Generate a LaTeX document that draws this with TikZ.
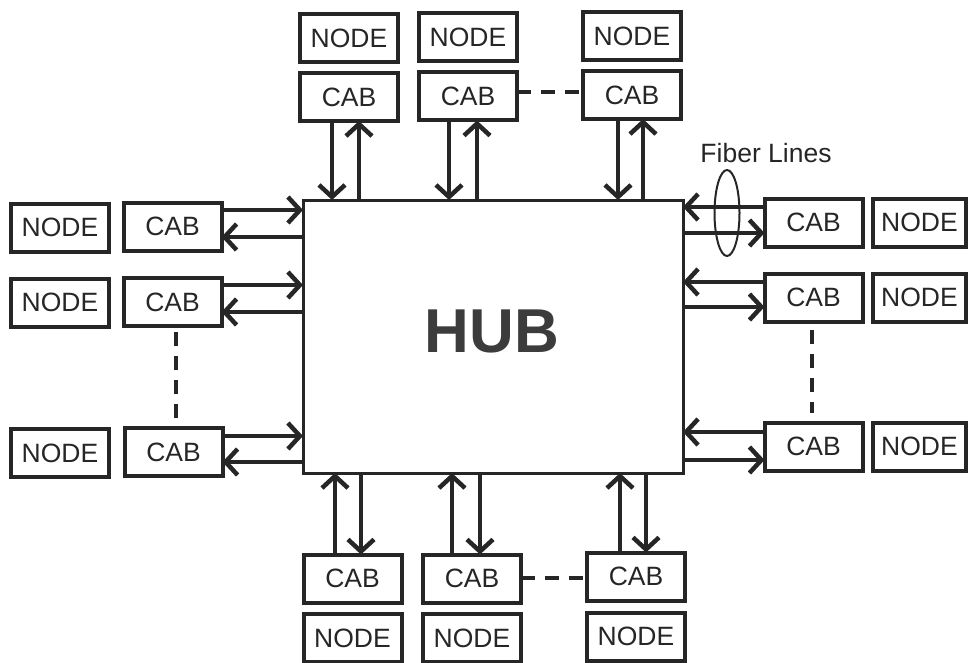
\documentclass[tikz,border=0pt]{standalone}
\usepackage{fontspec}
\setmainfont{Liberation Sans}
\usetikzlibrary{arrows.meta,shapes.geometric}
\definecolor{ink}{HTML}{262626}
\begin{document}
\begin{tikzpicture}[x=1pt,y=-1pt,
  box/.style={draw=ink, line width=4pt, minimum width=98pt, minimum height=48pt,
    inner sep=0pt, outer sep=0pt, text=ink, font=\fontsize{26.5}{30}\selectfont},
  link/.style={draw=ink, line width=3.3pt,
    -{Straight Barb[length=12pt,width=26pt,line width=4.5pt]}},
  dotsline/.style={draw=ink, line width=4pt, dash pattern=on 14pt off 10pt},
  label/.style={text=ink, inner sep=0pt, font=\fontsize{26.5}{30}\selectfont},
]
\useasboundingbox (0,0) rectangle (968,663);

% central hub
\node[draw=ink, line width=3pt, minimum width=380pt, minimum height=273pt,
      inner sep=0pt, outer sep=0pt] (hub) at (493,336.5) {};
\node[text=ink!90, inner sep=0pt, font=\fontsize{62}{70}\selectfont\bfseries] (hubtext) at (492,331.5) {HUB};

% top row
\node[box] (nt1) at (349,38) {NODE};
\node[box] (ct1) at (349,97) {CAB};
\node[box] (nt2) at (468,37.5) {NODE};
\node[box] (ct2) at (468,96.5) {CAB};
\node[box] (nt3) at (632,36) {NODE};
\node[box] (ct3) at (632,95) {CAB};

% left column
\node[box] (nl1) at (60,227.5) {NODE};
\node[box] (cl1) at (172.5,226.5) {CAB};
\node[box] (nl2) at (60,302.5) {NODE};
\node[box] (cl2) at (172.5,302) {CAB};
\node[box] (nl3) at (60,453) {NODE};
\node[box] (cl3) at (173.5,452) {CAB};

% right column
\node[box] (cr1) at (813.5,222.5) {CAB};
\node[box, minimum width=93pt] (nr1) at (919.5,222.5) {NODE};
\node[box] (cr2) at (813.5,297.5) {CAB};
\node[box, minimum width=93pt] (nr2) at (919.5,297.5) {NODE};
\node[box] (cr3) at (813.5,446.5) {CAB};
\node[box, minimum width=93pt] (nr3) at (919.5,446.5) {NODE};

% bottom row
\node[box] (cb1) at (352.5,578.5) {CAB};
\node[box] (nb1) at (352.5,638) {NODE};
\node[box] (cb2) at (472,578.5) {CAB};
\node[box] (nb2) at (472,638) {NODE};
\node[box] (cb3) at (636,576.5) {CAB};
\node[box] (nb3) at (636,636.5) {NODE};

% fiber pairs, top
\foreach \c/\i/\o in {ct1/-17/10, ct2/-19/9, ct3/-14/11} {
  \coordinate (a) at ([xshift=\i pt]\c.south);
  \coordinate (b) at ([xshift=\o pt]\c.south);
  \draw[link] (a) -- (a |- hub.north);
  \draw[link] (b |- hub.north) -- (b);
}
% fiber pairs, bottom
\foreach \c/\i/\o in {cb1/-17.5/8.5, cb2/-20/8, cb3/-16/10} {
  \coordinate (a) at ([xshift=\i pt]\c.north);
  \coordinate (b) at ([xshift=\o pt]\c.north);
  \draw[link] (a) -- (a |- hub.south);
  \draw[link] (b |- hub.south) -- (b);
}
% fiber pairs, left
\foreach \c/\i/\o in {cl1/16.5/-10.5, cl2/17/-10, cl3/16/-10} {
  \coordinate (a) at ([yshift=\i pt]\c.east);
  \coordinate (b) at ([yshift=\o pt]\c.east);
  \draw[link] (a) -- (a -| hub.west);
  \draw[link] (b -| hub.west) -- (b);
}
% fiber pairs, right
\foreach \c/\i/\o in {cr1/15.5/-10.5, cr2/15.5/-9.5, cr3/14.5/-13.5} {
  \coordinate (a) at ([yshift=\i pt]\c.west);
  \coordinate (b) at ([yshift=\o pt]\c.west);
  \draw[link] (a) -- (a -| hub.east);
  \draw[link] (b -| hub.east) -- (b);
}

% elided units
\draw[dotsline] ([yshift=4.5pt]ct2.east) -- ([yshift=4.5pt]ct2.east -| ct3.west);
\draw[dotsline] ([yshift=0.5pt]cb2.east) -- ([yshift=0.5pt]cb2.east -| cb3.west);
\draw[dotsline] ([xshift=3.5pt,yshift=-6pt]cl2.south) -- ([xshift=2.5pt,yshift=9pt]cl3.north);
\draw[dotsline] ([xshift=-1.5pt,yshift=-8pt]cr2.south) -- ([xshift=-1.5pt,yshift=10pt]cr3.north);

% fiber bundle marker
\node[ellipse, draw=ink, line width=2pt, minimum width=25pt, minimum height=86pt,
      inner sep=0pt] (bundle) at (727,213) {};
\node[label] (fiber) at (766,153) {Fiber Lines};
\end{tikzpicture}
\end{document}
